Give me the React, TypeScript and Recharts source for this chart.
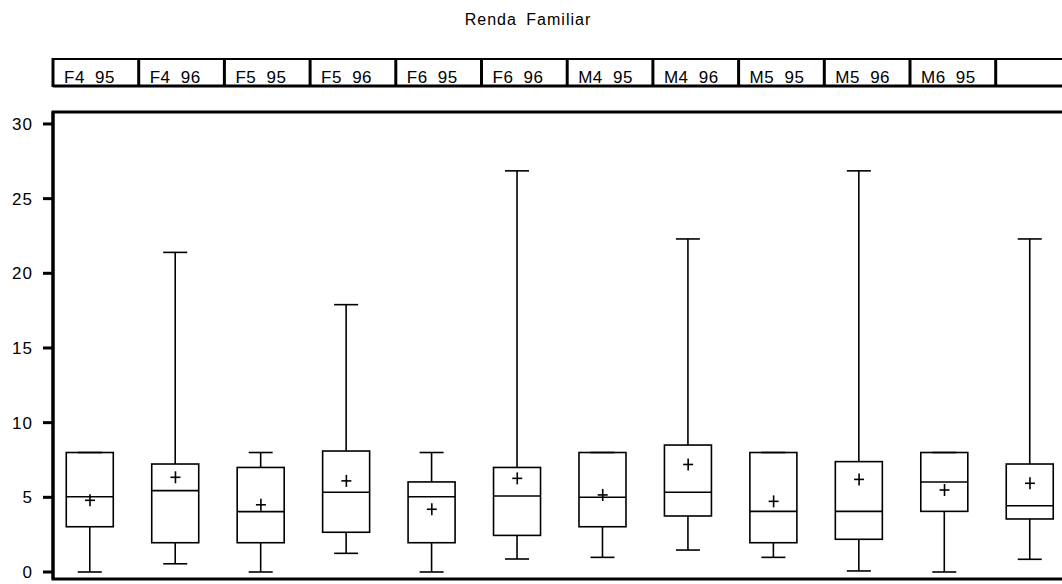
import React from "react";
import {
  ComposedChart,
  Bar,
  Scatter,
  XAxis,
  YAxis,
  ReferenceArea,
} from "recharts";

const CATEGORIES = [
  "F4 95", "F4 96", "F5 95", "F5 96", "F6 95", "F6 96",
  "M4 95", "M4 96", "M5 95", "M5 96", "M6 95", "",
];
const MIN = [0, 0.55, 0, 1.25, 0, 0.87, 0.98, 1.47, 0.98, 0.07, 0, 0.85];
const Q1 = [3.03, 1.96, 1.96, 2.66, 1.96, 2.45, 3.03, 3.75, 1.96, 2.19, 4.06, 3.55];
const MEDIAN = [5.04, 5.45, 4.04, 5.34, 5.04, 5.09, 5.0, 5.34, 4.06, 4.06, 6.03, 4.44];
const Q3 = [8.0, 7.23, 7.0, 8.1, 6.03, 7.0, 8.0, 8.5, 8.0, 7.39, 8.0, 7.23];
const MAX = [8.0, 21.4, 8.0, 17.9, 8.0, 26.86, 8.0, 22.3, 8.0, 26.86, 8.0, 22.3];
const MEAN = [4.8, 6.34, 4.5, 6.1, 4.2, 6.27, 5.16, 7.2, 4.73, 6.2, 5.49, 5.94];
const Y_TICKS = [0, 5, 10, 15, 20, 25, 30];

const FONT = "'Liberation Sans', Arial, sans-serif";
const X_DOMAIN: [number, number] = [-0.433, 11.527];
const Y_DOMAIN: [number, number] = [-0.469, 30.8];

const data = CATEGORIES.map((name, i) => ({
  idx: i,
  name,
  range: [MIN[i], MAX[i]],
  min: MIN[i],
  q1: Q1[i],
  median: MEDIAN[i],
  q3: Q3[i],
  max: MAX[i],
  mean: MEAN[i],
}));

// box + whiskers drawn inside the [min, max] range bar
function BoxShape(props: any) {
  const { x, y, width, height, payload } = props;
  if (x == null || y == null) return null;
  const top = Math.min(y, y + height);
  const bottom = Math.max(y, y + height);
  const span = payload.max - payload.min || 1;
  const py = (v: number) => bottom - ((v - payload.min) / span) * (bottom - top);
  const cx = x + width / 2;
  const cap = 12;
  const s = { stroke: "#000", strokeWidth: 1.6 };
  return (
    <g>
      <line x1={cx} y1={py(payload.max)} x2={cx} y2={py(payload.q3)} {...s} />
      <line x1={cx} y1={py(payload.q1)} x2={cx} y2={py(payload.min)} {...s} />
      <line x1={cx - cap} y1={py(payload.max)} x2={cx + cap} y2={py(payload.max)} {...s} />
      <line x1={cx - cap} y1={py(payload.min)} x2={cx + cap} y2={py(payload.min)} {...s} />
      <rect
        x={x}
        y={py(payload.q3)}
        width={width}
        height={py(payload.q1) - py(payload.q3)}
        fill="none"
        {...s}
      />
      <line x1={x} y1={py(payload.median)} x2={x + width} y2={py(payload.median)} {...s} />
    </g>
  );
}

function PlusShape(props: any) {
  const { cx, cy } = props;
  if (cx == null || cy == null) return null;
  return (
    <g stroke="#000" strokeWidth={1.6}>
      <line x1={cx - 5} y1={cy} x2={cx + 5} y2={cy} />
      <line x1={cx} y1={cy - 6} x2={cx} y2={cy + 6} />
    </g>
  );
}

const CELL_W = 85.7;
const HEAD_LEFT = 53;

export default function App() {
  return (
    <div
      style={{
        position: "absolute",
        left: 0,
        top: 0,
        width: 1062,
        height: 584,
        overflow: "hidden",
        background: "#fff",
      }}
    >
      <svg
        width={1062}
        height={100}
        style={{ position: "absolute", left: 0, top: 0 }}
        fontFamily={FONT}
      >
        <text
          x={528}
          y={25}
          textAnchor="middle"
          fontSize={16}
          fill="#000"
          letterSpacing={1}
          wordSpacing={4}
        >
          Renda Familiar
        </text>
        <line x1={HEAD_LEFT} y1={59} x2={1062} y2={59} stroke="#000" strokeWidth={2} />
        <line x1={HEAD_LEFT} y1={86} x2={1062} y2={86} stroke="#000" strokeWidth={3} />
        {CATEGORIES.map((c, i) => (
          <g key={i}>
            <line
              x1={HEAD_LEFT + i * CELL_W}
              y1={58}
              x2={HEAD_LEFT + i * CELL_W}
              y2={87}
              stroke="#000"
              strokeWidth={3}
            />
            <text
              x={HEAD_LEFT + i * CELL_W + 11}
              y={83}
              fontSize={17}
              fill="#000"
              letterSpacing={0.5}
              wordSpacing={5}
            >
              {c}
            </text>
          </g>
        ))}
      </svg>
      <div style={{ position: "absolute", left: 0, top: 0 }}>
        <ComposedChart
          width={1100}
          height={584}
          data={data}
          margin={{ top: 112, right: 25, bottom: 5, left: 0 }}
        >
          <XAxis
            dataKey="idx"
            type="number"
            domain={X_DOMAIN}
            ticks={CATEGORIES.map((_, i) => i)}
            allowDataOverflow
            hide
          />
          <YAxis
            type="number"
            domain={Y_DOMAIN}
            ticks={Y_TICKS}
            allowDataOverflow
            width={53}
            axisLine={{ stroke: "#000", strokeWidth: 3 }}
            tickLine={{ stroke: "#000", strokeWidth: 3 }}
            tickSize={10}
            tickMargin={10}
            tick={{ fill: "#000", fontSize: 17, fontFamily: FONT, letterSpacing: 1 }}
          />
          <ReferenceArea
            x1={X_DOMAIN[0]}
            x2={X_DOMAIN[1]}
            y1={Y_DOMAIN[0]}
            y2={Y_DOMAIN[1]}
            fill="none"
            stroke="#000"
            strokeWidth={3}
            ifOverflow="visible"
          />
          <Bar
            dataKey="range"
            barSize={47}
            shape={<BoxShape />}
            isAnimationActive={false}
          />
          <Scatter dataKey="mean" shape={<PlusShape />} isAnimationActive={false} />
        </ComposedChart>
      </div>
    </div>
  );
}
